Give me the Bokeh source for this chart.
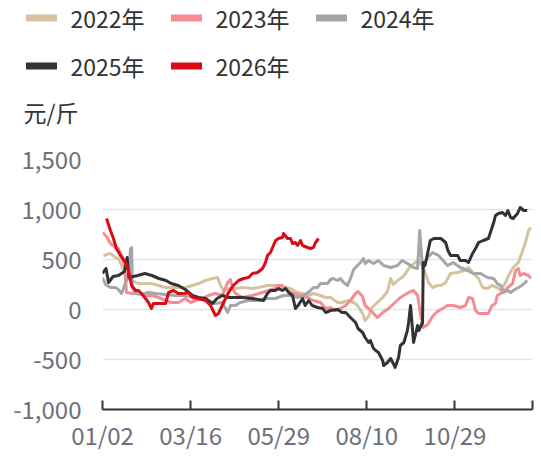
from bokeh.plotting import figure
from bokeh.layouts import column
from bokeh.models import Range1d, FixedTicker, Legend, LegendItem, Label, NumeralTickFormatter
from bokeh.embed import file_html
from bokeh.resources import INLINE

FONT = "Noto Sans CJK SC"

# x = trading-day index within the year (0 .. 244), y = 元/斤
tick_pos = [0, 50, 100, 150, 200, 244]
tick_labels = ["01/02", "03/16", "05/29", "08/10", "10/29", ""]

y2022 = [(0.6, 540), (4.5, 560), (7.4, 520), (9, 510), (10.8, 440), (13, 340), (16.5, 290), (20.4, 260),
         (24.4, 260), (27.8, 260), (31.8, 240), (35.8, 220), (43, 220), (47, 220), (51, 240), (54.5, 260),
         (58.5, 290), (62.4, 310), (65.3, 320), (67, 240), (68.7, 190), (71.5, 210), (75.5, 210), (79.5, 220),
         (85, 210), (88.5, 220), (93.6, 240), (98, 240), (104, 220), (106.7, 210), (110.7, 170), (114, 160),
         (117, 140), (119.7, 160), (123.7, 140), (126.6, 120), (129.4, 120), (133.4, 70), (136, 70),
         (139.6, 90), (142.5, 70), (144.7, 40), (147.6, -40), (149, -110), (151, -70), (153, 20), (156, 70),
         (159, 120), (161.7, 180), (163.5, 310), (165, 250), (167.4, 290), (170, 320), (172, 360),
         (173.7, 410), (176, 450), (177.6, 470), (179, 490), (181.6, 440), (183, 370), (185, 270),
         (187.3, 220), (190, 240), (192, 240), (194.7, 270), (197.5, 360), (201.5, 370), (205, 390),
         (207.7, 420), (210.5, 360), (213.4, 310), (215.7, 220), (218.5, 210), (221, 240), (224, 220),
         (226, 190), (228.7, 270), (230.4, 340), (233, 420), (236, 470), (238, 570), (240, 670),
         (241.8, 790), (243, 820)]

y2023 = [(0, 770), (2.3, 730), (4.5, 660), (7.4, 620), (9, 610), (10.8, 540), (12.5, 440), (13.6, 170),
         (16.5, 160), (20.4, 170), (24.4, 140), (27.8, 140), (31.8, 120), (35.8, 90), (39, 70), (43, 70),
         (47, 110), (50, 70), (52.8, 90), (56.8, 110), (60, 140), (64, 160), (68, 140), (71, 270),
         (72.6, 300), (73.8, 210), (75.5, 160), (79.5, 120), (85, 140), (90.8, 170), (94, 190), (98, 210),
         (99.3, 240), (102, 240), (105, 190), (108.4, 160), (112.4, 140), (116.3, 120), (119.7, 90),
         (123.7, 70), (126.6, 10), (129.4, 20), (132, -10), (135, 10), (138, 40), (140.7, 90), (143.6, 160),
         (145, 180), (147.6, 130), (149, 40), (151, 10), (153.8, -40), (156, -80), (159, -30), (162.3, 10),
         (166, 70), (169, 120), (173.7, 170), (176.5, 190), (178.8, 140), (180.5, -50), (182, -180),
         (184.5, -150), (187.3, -70), (190, -20), (193, 10), (195.8, 40), (199, 40), (203, 20), (206, 40),
         (207.7, 120), (210, 110), (211.7, -10), (213.4, -40), (217.4, -40), (219, -40), (221, 40),
         (223, 60), (224, 140), (227, 170), (230, 220), (232.7, 260), (234.4, 390), (236, 410), (237, 340),
         (239, 360), (241.8, 340), (243, 310)]

y2024 = [(0, 320), (1.7, 250), (4.5, 220), (7.4, 220), (9, 200), (10.8, 160), (12, 210), (13, 270),
         (14.8, 320), (15.9, 610), (16.5, 620), (17, 220), (18.7, 160), (22, 150), (26, 170), (30, 160),
         (35.8, 150), (41.4, 140), (47, 140), (52.8, 120), (58.5, 90), (64, 60), (68, 70), (71, -30),
         (72.6, 40), (75.5, 40), (78, 70), (82.9, 90), (88.5, 90), (92.5, 110), (98, 110), (102.7, 140),
         (106.7, 140), (110.7, 120), (114, 140), (116, 160), (118, 190), (119.7, 220), (122, 220),
         (123.7, 260), (127.7, 260), (129.4, 300), (131, 310), (133.4, 290), (135, 310), (136.8, 270),
         (139, 240), (140.7, 310), (142.5, 400), (144.7, 440), (146.4, 470), (148, 510), (149, 460),
         (151, 490), (153.8, 460), (156.6, 490), (159.5, 440), (163.5, 420), (167.4, 440), (170, 490),
         (173, 460), (176.5, 420), (178.8, 410), (180, 790), (181.6, 410), (184.5, 520), (187.3, 570),
         (190.7, 540), (195.8, 440), (199, 470), (203, 420), (207, 390), (210.5, 360), (214.5, 360),
         (218.5, 320), (222, 310), (224, 260), (226, 240), (227.6, 170), (230, 190), (231.6, 170),
         (233, 190), (236, 220), (238, 240), (241, 290)]

y2025 = [(0, 360), (2, 410), (3.4, 270), (6, 330), (9, 340), (12.5, 380), (14, 520), (15, 320), (20, 340),
         (24, 360), (28, 340), (32, 310), (36, 290), (39, 260), (43, 240), (47, 200), (51, 140), (54.5, 120),
         (58.5, 110), (62.4, 60), (65, 110), (68, 140), (71.5, 120), (75.5, 120), (79.5, 120), (85, 110),
         (91.4, 90), (93.6, 160), (95.3, 190), (98, 190), (100, 210), (102, 190), (104, 210), (105.6, 170),
         (107.8, 140), (109.5, 10), (111, 40), (113.5, 110), (115, 40), (117, 90), (119, 40), (122, 20),
         (125, 10), (126.6, -30), (129.4, -10), (133.4, 0), (136, -30), (138, -30), (140.7, -80),
         (143.6, -130), (145, -190), (147.6, -230), (149, -280), (151, -330), (152, -310), (153.8, -390),
         (155, -410), (156.6, -430), (159, -510), (159.5, -560), (161.7, -530), (163.5, -490), (165, -540),
         (166, -580), (168, -480), (169, -360), (171, -330), (173, -210), (173.7, -130), (174.8, 40),
         (176.5, -330), (178.8, -160), (179.5, -210), (181.6, -130), (182, 470), (183, 440), (186, 690),
         (188, 710), (192, 710), (194.7, 670), (196, 590), (197.5, 540), (201.5, 540), (203, 490),
         (206, 490), (207.7, 470), (210, 560), (211.7, 610), (213.4, 670), (216, 690), (219, 710),
         (222, 870), (223, 940), (224.7, 960), (227, 970), (228.7, 940), (230, 990), (231.6, 920),
         (233, 910), (235.5, 960), (237, 1020), (239, 990), (241, 990)]

y2026 = [(2.3, 910), (4.5, 790), (6.2, 710), (7.9, 610), (10.2, 540), (13.1, 470), (14.8, 390), (16.5, 240),
         (18.7, 190), (20.4, 190), (22.1, 160), (24.4, 110), (26.1, 70), (27.8, 10), (28.9, 60), (31.8, 60),
         (35.8, 60), (37.5, 170), (40.3, 190), (43.1, 160), (46.0, 160), (48.8, 170), (51.1, 120),
         (54.5, 110), (58.5, 90), (61.3, 40), (64.1, -60), (65.8, -40), (68.7, 70), (71.5, 170), (74.3, 240),
         (77.2, 290), (80.0, 310), (82.9, 320), (85.1, 360), (88.0, 370), (90.8, 410), (92.5, 470),
         (93.6, 540), (95.3, 570), (97.0, 640), (98.2, 690), (99.9, 710), (102.2, 720), (102.7, 760),
         (105.0, 710), (106.7, 710), (107.8, 660), (109.5, 670), (110.7, 640), (112.4, 690), (113.5, 640),
         (116.3, 620), (118.0, 610), (119.7, 620), (120.9, 670), (122.6, 710)]

series = [("2022年", y2022, "#d5c3a0"), ("2023年", y2023, "#f48c91"), ("2024年", y2024, "#a4a6a9"),
          ("2025年", y2025, "#333333"), ("2026年", y2026, "#dc0a17")]

W = 537
HEAD_H = 141

# ---------- header: legend + unit ----------
head = figure(width=W, height=HEAD_H, output_backend="svg", toolbar_location=None,
              x_range=Range1d(0, 244), y_range=Range1d(-1000, 1500), x_axis_type=None, y_axis_type=None,
              min_border=0, frame_align=False)
head.outline_line_color = None
head.xgrid.visible = False
head.ygrid.visible = False

items = []
for name, data, color in series:
    xs = [d[0] for d in data]
    ys = [d[1] for d in data]
    swatch = head.line(xs, ys, line_color=color, line_width=7, line_cap="round", visible=False)
    items.append(LegendItem(label=name, renderers=[swatch]))

legend = Legend(items=items, location=(25.5, 58.5), orientation="horizontal", ncols=3,
                margin=0, padding=1, spacing=14, label_standoff=14, glyph_width=31, glyph_height=33,
                label_height=33, label_width=86, border_line_color=None, background_fill_alpha=0,
                inactive_fill_alpha=0, click_policy="none",
                label_text_font=FONT, label_text_font_size="23px", label_text_color="#333333")
head.add_layout(legend, "center")
head.add_layout(Label(x=23, y=30, x_units="screen", y_units="screen", text="元/斤",
                      text_baseline="middle", text_font=FONT, text_font_size="23px",
                      text_color="#333333"))

# ---------- main chart ----------
p = figure(frame_width=430, frame_height=250, output_backend="svg", toolbar_location=None,
           x_range=Range1d(0, 244), y_range=Range1d(-1000, 1500),
           min_border_left=102, min_border_right=5, min_border_top=18, min_border_bottom=36,
           frame_align=False)
p.outline_line_color = None
p.xgrid.visible = False
p.ygrid.grid_line_color = "#e0e6f1"
p.ygrid.grid_line_width = 1.5
p.ygrid.ticker = FixedTicker(ticks=[-1000, -500, 0, 500, 1000, 1500])

p.yaxis.ticker = FixedTicker(ticks=[-1000, -500, 0, 500, 1000, 1500])
p.yaxis.formatter = NumeralTickFormatter(format="0,0")
p.yaxis.axis_line_color = None
p.yaxis.major_tick_line_color = None
p.yaxis.minor_tick_line_color = None
p.yaxis.major_label_standoff = 15
p.yaxis.major_label_text_font = FONT
p.yaxis.major_label_text_font_size = "24px"
p.yaxis.major_label_text_color = "#6e7079"

p.xaxis.ticker = FixedTicker(ticks=tick_pos)
p.xaxis.major_label_overrides = {t: l for t, l in zip(tick_pos, tick_labels)}
p.xaxis.axis_line_color = "#333333"
p.xaxis.axis_line_width = 2
p.xaxis.major_tick_line_color = "#333333"
p.xaxis.major_tick_line_width = 2
p.xaxis.major_tick_in = 9
p.xaxis.major_tick_out = 0
p.xaxis.minor_tick_line_color = None
p.xaxis.major_label_standoff = 7
p.xaxis.major_label_text_font = FONT
p.xaxis.major_label_text_font_size = "24px"
p.xaxis.major_label_text_color = "#6e7079"

for name, data, color in series:
    xs = [d[0] for d in data]
    ys = [d[1] for d in data]
    p.line(xs, ys, line_color=color, line_width=3, line_join="round")

layout = column(head, p, spacing=0)
open("out.html", "w").write(file_html(layout, INLINE))
